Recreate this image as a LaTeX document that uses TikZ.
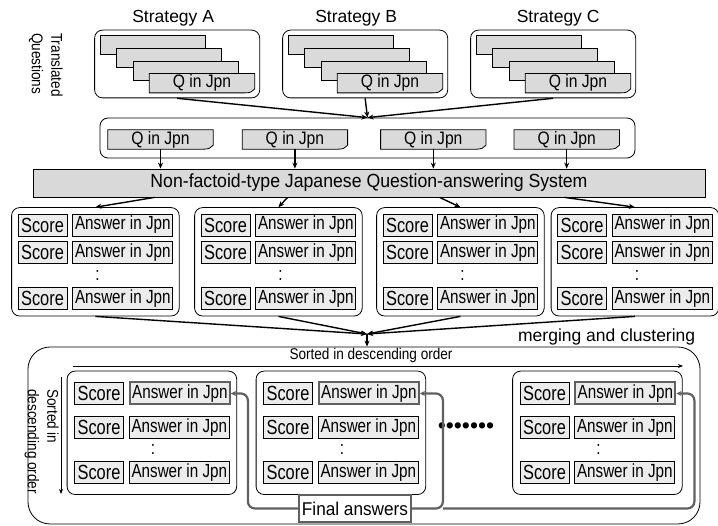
\documentclass[tikz,border=0pt]{standalone}
\usepackage{fontspec}
\setmainfont{Liberation Sans}
\newfontfamily\narrowA{Liberation Sans}[FakeStretch=0.8]
\newfontfamily\narrowB{Liberation Sans}[FakeStretch=0.87]
\newfontfamily\narrowC{Liberation Sans}[FakeStretch=0.93]
\usetikzlibrary{arrows.meta, positioning, calc, fit}

\definecolor{docgray}{RGB}{218,218,218}
\definecolor{boxgray}{RGB}{236,236,236}
\definecolor{sysgray}{RGB}{217,217,217}
\definecolor{hlgray}{RGB}{96,96,96}

\newcommand{\bigfont}{\fontsize{17.5}{20}\selectfont}
\newcommand{\sysfont}{\narrowC\fontsize{19}{22}\selectfont}
\newcommand{\finfont}{\narrowC\fontsize{18.5}{22}\selectfont}
\newcommand{\qfont}{\narrowB\fontsize{18}{20}\selectfont}
\newcommand{\scorefont}{\narrowA\fontsize{20.5}{22}\selectfont}
\newcommand{\ansfont}{\narrowA\fontsize{19}{22}\selectfont}
\newcommand{\sidefont}{\narrowB\fontsize{15.6}{19.5}\selectfont}

\begin{document}
\begin{tikzpicture}[
    x=1pt, y=-1pt,
    arrow/.style={-{Stealth[length=6pt, width=5pt]}, line width=1.4pt},
    thinarrow/.style={-{Stealth[length=5pt, width=4pt]}, line width=0.9pt},
    finarrow/.style={-{Stealth[length=5pt, width=5pt]}, line width=2.2pt, draw=hlgray, rounded corners=7pt},
    roundbox/.style={draw, rounded corners=8pt, line width=0.8pt},
    stratbox/.style={roundbox, inner sep=5pt},
    listbox/.style={roundbox, inner sep=6pt},
    sortedbox/.style={roundbox, inner xsep=7pt, inner ysep=11pt},
    backdoc/.style={draw, line width=0.8pt, fill=docgray, minimum width=105pt, minimum height=19pt, inner sep=0pt},
    qdoc/.style={minimum width=105pt, minimum height=19pt, inner sep=0pt, font=\qfont,
        append after command={\pgfextra{
            \filldraw[fill=docgray, draw=black, line width=0.8pt]
                (\tikzlastnode.south west) -- (\tikzlastnode.north west) -- (\tikzlastnode.north east)
                -- ($(\tikzlastnode.south east)+(0,-4)$)
                .. controls ($(\tikzlastnode.south east)+(-2,-1)$) and ($(\tikzlastnode.south east)+(-5,0)$) .. ($(\tikzlastnode.south east)+(-10,0)$)
                -- cycle;
        }}},
    score/.style={draw, line width=0.8pt, fill=boxgray, minimum width=49pt, minimum height=22pt, inner sep=0pt, font=\scorefont},
    answer/.style={score, minimum width=100pt, font=\ansfont},
    best/.style={answer, draw=hlgray, line width=2pt},
    more/.style={font=\ansfont, inner sep=0pt}
]
\useasboundingbox (0,0) rectangle (718,526);

% ========== STRATEGIES ==========
\node[rotate=-90, anchor=north west, align=left, inner sep=0pt, font=\sidefont] (transq) at (63,33) {Translated\\Questions};

\node[backdoc] (a1) at (152.5,45) {};
\node[backdoc, below=-7pt of a1, xshift=16.5pt] (a2) {};
\node[backdoc, below=-7pt of a2, xshift=16.5pt] (a3) {};
\node[qdoc, below=-7pt of a3, xshift=16.5pt] (a4) {Q in Jpn};
\node[stratbox, fit=(a1)(a4)] (stratA) {};
\node[font=\bigfont, above=0pt of stratA, xshift=-4pt] (titleA) {Strategy A};

\node[backdoc] (b1) at (340.5,45) {};
\node[backdoc, below=-7pt of b1, xshift=16.5pt] (b2) {};
\node[backdoc, below=-7pt of b2, xshift=16.5pt] (b3) {};
\node[qdoc, below=-7pt of b3, xshift=16.5pt] (b4) {Q in Jpn};
\node[stratbox, fit=(b1)(b4)] (stratB) {};
\node[font=\bigfont, above=0pt of stratB, xshift=-9pt] (titleB) {Strategy B};

\node[backdoc] (c1) at (528.5,45) {};
\node[backdoc, below=-7pt of c1, xshift=16.5pt] (c2) {};
\node[backdoc, below=-7pt of c2, xshift=16.5pt] (c3) {};
\node[qdoc, below=-7pt of c3, xshift=16.5pt] (c4) {Q in Jpn};
\node[stratbox, fit=(c1)(c4)] (stratC) {};
\node[font=\bigfont, above=0pt of stratC, xshift=5pt] (titleC) {Strategy C};

% ========== QUESTIONS ==========
\node[qdoc] (q1) at (160.5,139.5) {Q in Jpn};
\node[qdoc, right=29pt of q1] (q2) {Q in Jpn};
\node[qdoc, right=33pt of q2] (q3) {Q in Jpn};
\node[qdoc, right=28pt of q3] (q4) {Q in Jpn};
\node[roundbox, minimum width=535pt, minimum height=40pt] (qrow) at (367.5,138) {};

\draw[arrow] (stratA.south) -- (qrow.north);
\draw[arrow] (stratB.south) -- (qrow.north);
\draw[arrow] (stratC.south) -- (qrow.north);

% ========== QA SYSTEM ==========
\node[draw, fill=sysgray, line width=0.8pt, minimum width=672pt, minimum height=28pt, inner sep=0pt, font=\sysfont] (sys) at (369,183) {Non-factoid-type Japanese Question-answering System};

\draw[arrow] (q1.south) -- (q1.south |- sys.north);
\draw[arrow] (q2.south) -- (q2.south |- sys.north);
\draw[arrow] (q3.south) -- (q3.south |- sys.north);
\draw[arrow] (q4.south) -- (q4.south |- sys.north);

% ========== ANSWER LISTS ==========
\node[score] (g1s1) at (42.5,225) {Score};
\node[answer, right=5pt of g1s1] (g1a1) {Answer in Jpn};
\node[score, below=5pt of g1s1] (g1s2) {Score};
\node[answer, right=5pt of g1s2] (g1a2) {Answer in Jpn};
\node[score, below=23pt of g1s2] (g1s3) {Score};
\node[answer, right=5pt of g1s3] (g1a3) {Answer in Jpn};
\node[more] (g1c) at ($(g1a2.south west)!0.5!(g1a3.north west)+(25,0)$) {:};
\node[listbox, fit=(g1s1)(g1a3)] (g1) {};

\node[score] (g2s1) at (225.5,225) {Score};
\node[answer, right=5pt of g2s1] (g2a1) {Answer in Jpn};
\node[score, below=5pt of g2s1] (g2s2) {Score};
\node[answer, right=5pt of g2s2] (g2a2) {Answer in Jpn};
\node[score, below=23pt of g2s2] (g2s3) {Score};
\node[answer, right=5pt of g2s3] (g2a3) {Answer in Jpn};
\node[more] (g2c) at ($(g2a2.south west)!0.5!(g2a3.north west)+(25,0)$) {:};
\node[listbox, fit=(g2s1)(g2a3)] (g2) {};

\node[score] (g3s1) at (407.5,225) {Score};
\node[answer, right=5pt of g3s1] (g3a1) {Answer in Jpn};
\node[score, below=5pt of g3s1] (g3s2) {Score};
\node[answer, right=5pt of g3s2] (g3a2) {Answer in Jpn};
\node[score, below=23pt of g3s2] (g3s3) {Score};
\node[answer, right=5pt of g3s3] (g3a3) {Answer in Jpn};
\node[more] (g3c) at ($(g3a2.south west)!0.5!(g3a3.north west)+(25,0)$) {:};
\node[listbox, fit=(g3s1)(g3a3)] (g3) {};

\node[score] (g4s1) at (582,225) {Score};
\node[answer, right=5pt of g4s1] (g4a1) {Answer in Jpn};
\node[score, below=5pt of g4s1] (g4s2) {Score};
\node[answer, right=5pt of g4s2] (g4a2) {Answer in Jpn};
\node[score, below=23pt of g4s2] (g4s3) {Score};
\node[answer, right=5pt of g4s3] (g4a3) {Answer in Jpn};
\node[more] (g4c) at ($(g4a2.south west)!0.5!(g4a3.north west)+(25,0)$) {:};
\node[listbox, fit=(g4s1)(g4a3)] (g4) {};

\draw[arrow] ($(sys.south west)+(122,0)$) -- (g1.north);
\draw[arrow] ($(sys.south west)+(255,0)$) -- (g2.north);
\draw[arrow] ($(sys.south west)+(407,0)$) -- (g3.north);
\draw[arrow] ($(sys.south west)+(532,0)$) -- (g4.north);

% ========== MERGING AND CLUSTERING ==========
\node[draw, line width=0.8pt, rounded corners=22pt, minimum width=672pt, minimum height=177pt] (mbox) at (364,435.5) {};
\node[font=\bigfont, anchor=south east, inner sep=1pt] (mlabel) at ($(mbox.north east)+(-4,0)$) {merging and clustering};

\coordinate (merge) at (367,334);
\draw[arrow] (g1.south) -- (merge);
\draw[arrow] (g2.south) -- (merge);
\draw[arrow] (g3.south) -- (merge);
\draw[arrow] (g4.south) -- (merge);
\draw[arrow] (merge) -- (merge |- mbox.north);

% sorting directions
\coordinate (sortL) at (73,366);
\coordinate (sortR) at (683,366);
\draw[thinarrow] (sortL) -- (sortR);
\node[font=\sidefont, above=0pt of sortL, xshift=298pt] (sortH) {Sorted in descending order};
\coordinate (sortT) at (61,377);
\coordinate (sortB) at (61,494);
\draw[thinarrow] (sortT) -- (sortB);
\node[rotate=-90, anchor=north west, align=left, inner sep=0pt, font=\sidefont] (sortV) at (59,389) {Sorted in\\descending order};

\node[score] (m1s1) at (99,393.5) {Score};
\node[best, right=5pt of m1s1] (m1a1) {Answer in Jpn};
\node[score, below=11pt of m1s1] (m1s2) {Score};
\node[answer, right=5pt of m1s2] (m1a2) {Answer in Jpn};
\node[score, below=22pt of m1s2] (m1s3) {Score};
\node[answer, right=5pt of m1s3] (m1a3) {Answer in Jpn};
\node[more] (m1c) at ($(m1a2.south west)!0.5!(m1a3.north west)+(24,0)$) {:};
\node[sortedbox, fit=(m1s1)(m1a3)] (m1) {};

\node[score] (m2s1) at (288,393.5) {Score};
\node[best, right=5pt of m2s1] (m2a1) {Answer in Jpn};
\node[score, below=11pt of m2s1] (m2s2) {Score};
\node[answer, right=5pt of m2s2] (m2a2) {Answer in Jpn};
\node[score, below=22pt of m2s2] (m2s3) {Score};
\node[answer, right=5pt of m2s3] (m2a3) {Answer in Jpn};
\node[more] (m2c) at ($(m2a2.south west)!0.5!(m2a3.north west)+(24,0)$) {:};
\node[sortedbox, fit=(m2s1)(m2a3)] (m2) {};

\node[font=\fontsize{23}{23}\selectfont, inner sep=0pt] (dotrow) at (466,428) {•••••••};

\node[score] (m3s1) at (544.5,393.5) {Score};
\node[best, right=5pt of m3s1] (m3a1) {Answer in Jpn};
\node[score, below=11pt of m3s1] (m3s2) {Score};
\node[answer, right=5pt of m3s2] (m3a2) {Answer in Jpn};
\node[score, below=22pt of m3s2] (m3s3) {Score};
\node[answer, right=5pt of m3s3] (m3a3) {Answer in Jpn};
\node[more] (m3c) at ($(m3a2.south west)!0.5!(m3a3.north west)+(24,0)$) {:};
\node[sortedbox, fit=(m3s1)(m3a3)] (m3) {};

% Final answers
\node[draw=hlgray, line width=2pt, fill=white, minimum width=112pt, minimum height=27pt, inner sep=0pt, font=\finfont] (fin) at (355,508.5) {Final answers};

\coordinate (fork) at ($(m2a1.east |- fin.east)+(23,0)$);
\draw[finarrow] (fin.west) -| ($(m1a1.east)+(17,0)$) -- (m1a1.east);
\draw[finarrow] (fin.east) -| ($(m2a1.east)+(23,0)$) -- (m2a1.east);
\draw[finarrow] (fork) -| ($(m3a1.east)+(18,0)$) -- (m3a1.east);

\end{tikzpicture}
\end{document}
